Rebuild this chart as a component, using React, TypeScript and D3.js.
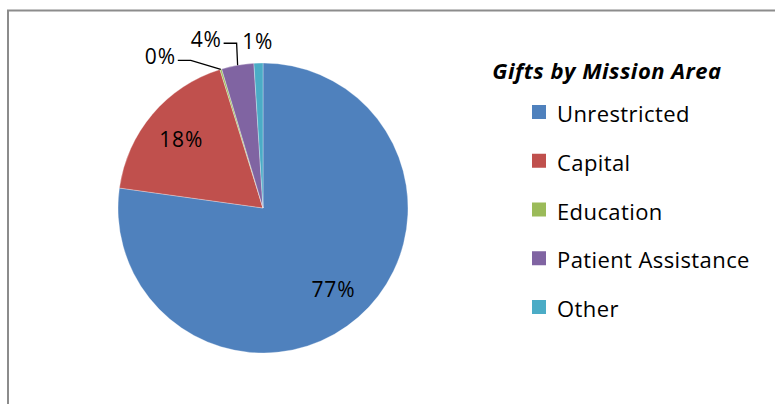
import React, { useEffect, useRef } from "react";
import * as d3 from "d3";

// data
const categories = ["Unrestricted", "Capital", "Education", "Patient Assistance", "Other"];
const shares = [77.2, 18.0, 0.2, 3.6, 1.0];
const colors = ["#4f81bd", "#c0504d", "#9bbb59", "#8064a2", "#4bacc6"];
const legendTitle = "Gifts by Mission Area";

// where the small slice labels go, relative to the point on the rim (null = inside)
const labelPlacement = [
    null,
    null,
    { elbowDx: -30, elbowDy: -9, lineLen: 13, textGap: 2 },
    { elbowDx: -1, elbowDy: -22, lineLen: 13, textGap: 2 },
    { elbowDx: 0, elbowDy: 0, lineLen: 0, textGap: 0 },
];

export default function App() {
    const svgRef = useRef<SVGSVGElement>(null);

    useEffect(() => {
        const width = 775;
        const height = 404;
        const svg = d3.select(svgRef.current);
        svg.attr("width", width).attr("height", height);
        svg.selectAll("*").remove();

        const font = "'Open Sans', 'Noto Sans', sans-serif";

        // chart frame, only top and left edges are visible
        svg
            .append("rect")
            .attr("x", 8)
            .attr("y", 10.5)
            .attr("width", width + 20)
            .attr("height", height + 20)
            .attr("fill", "#fff")
            .attr("stroke", "#8c8c8c")
            .attr("stroke-width", 2);

        const cx = 263;
        const cy = 208;
        const r = 145;

        const data = categories.map((c, i) => ({ name: c, value: shares[i], color: colors[i], i }));
        const pie = d3.pie<any>().sort(null).value((d) => d.value);
        const arcs = pie(data);
        const arc = d3.arc<any>().innerRadius(0).outerRadius(r);
        const labelArc = d3.arc<any>().innerRadius(r * 0.74).outerRadius(r * 0.74);

        const g = svg.append("g").attr("transform", `translate(${cx},${cy})`);

        g.selectAll("path")
            .data(arcs)
            .join("path")
            .attr("d", arc)
            .attr("fill", (d) => d.data.color)
            .attr("stroke", "#fff")
            .attr("stroke-opacity", 0.5)
            .attr("stroke-width", 0.6);

        const pct = (v: number) => `${Math.round(v)}%`;
        const labelStyle = (t: any) =>
            t
                .style("font-family", font)
                .style("font-size", "21px")
                .style("letter-spacing", "0.8px")
                .attr("fill", "#000");

        arcs.forEach((a, i) => {
            const place = labelPlacement[i];
            if (!place) {
                const [lx, ly] = labelArc.centroid(a);
                g.append("text")
                    .attr("x", lx)
                    .attr("y", ly)
                    .attr("text-anchor", "middle")
                    .attr("dominant-baseline", "central")
                    .call(labelStyle)
                    .text(pct(a.data.value));
                return;
            }
            const mid = (a.startAngle + a.endAngle) / 2;
            const rimX = Math.sin(mid) * r;
            const rimY = -Math.cos(mid) * r;
            if (place.lineLen === 0) {
                // plain label just outside the rim
                const rr = r + 22;
                g.append("text")
                    .attr("x", Math.sin(mid) * rr)
                    .attr("y", -Math.cos(mid) * rr)
                    .attr("text-anchor", "middle")
                    .attr("dominant-baseline", "central")
                    .call(labelStyle)
                    .text(pct(a.data.value));
                return;
            }
            const ex = rimX + place.elbowDx;
            const ey = rimY + place.elbowDy;
            const tx = ex - place.lineLen;
            g.append("polyline")
                .attr("points", `${rimX},${rimY} ${ex},${ey} ${tx},${ey}`)
                .attr("fill", "none")
                .attr("stroke", "#000")
                .attr("stroke-width", 1.3);
            g.append("text")
                .attr("x", tx - place.textGap)
                .attr("y", ey - 4)
                .attr("text-anchor", "end")
                .attr("dominant-baseline", "central")
                .call(labelStyle)
                .text(pct(a.data.value));
        });

        // legend
        const legend = svg.append("g");
        legend
            .append("text")
            .attr("x", 607)
            .attr("y", 79)
            .attr("text-anchor", "middle")
            .style("font-family", font)
            .style("font-size", "22px")
            .style("font-weight", "bold")
            .style("font-style", "italic")
            .style("letter-spacing", "0.5px")
            .text(legendTitle);

        const rowY = d3.scalePoint<string>().domain(categories).range([112, 307]);
        categories.forEach((c, i) => {
            const y = rowY(c)!;
            legend
                .append("rect")
                .attr("x", 532)
                .attr("y", y - 7)
                .attr("width", 14)
                .attr("height", 14)
                .attr("fill", colors[i]);
            legend
                .append("text")
                .attr("x", 557)
                .attr("y", y + 1)
                .attr("dominant-baseline", "central")
                .style("font-family", font)
                .style("font-size", "22px")
                .style("letter-spacing", "0.4px")
                .text(c);
        });
    }, []);

    return <svg ref={svgRef} style={{ position: "absolute", left: 0, top: 0 }}></svg>;
}
